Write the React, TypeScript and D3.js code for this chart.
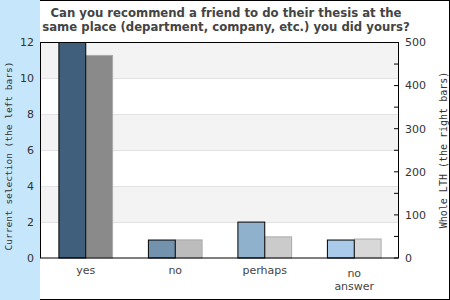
import React from "react";
import * as d3 from "d3";

const categories = ["yes", "no", "perhaps", "no answer"];
const currentSelection = [12, 1, 2, 1];
const wholeLTH = [470, 42, 49, 44];
const leftTicks = [0, 2, 4, 6, 8, 10, 12];
const rightTicks = [0, 100, 200, 300, 400, 500];
const rightMinorTicks = [50, 150, 250, 350, 450];
const leftColors = ["#3f5f7c", "#7292ae", "#8fb1cc", "#a9cbe9"];
const rightColors = ["#8a8a8a", "#bcbcbc", "#cbcbcb", "#d8d8d8"];
const titleLines = [
  "Can you recommend a friend to do their thesis at the",
  "same place (department, company, etc.) you did yours?",
];

export default function App() {
  const W = 450, H = 300;
  const x0 = 41, x1 = 399, yTop = 42.5, yBot = 258;
  const band = d3.scaleBand<string>().domain(categories).range([x0, x1]);
  const yL = d3.scaleLinear().domain([0, 12]).range([yBot, yTop]);
  const yR = d3.scaleLinear().domain([0, 500]).range([yBot, yTop]);
  const bw = band.bandwidth() * 0.3;
  const font = "DejaVu Sans, sans-serif";
  const mono = "DejaVu Sans Mono, monospace";
  const stripes = [[10, 12], [6, 8], [2, 4]];
  return (
    <svg width={W} height={H} style={{ display: "block", position: "absolute", left: 0, top: 0 }}>
      <rect x={0} y={0} width={W} height={H} fill="#fff" />
      <rect x={0.5} y={0.5} width={W - 1} height={H - 1} fill="none" stroke="#000" />
      <rect x={0} y={0} width={40} height={H} fill="#c6e6fb" />
      {stripes.map(([a, b], i) => (
        <rect key={i} x={x0} y={yL(b)} width={x1 - x0 - 1} height={yL(a) - yL(b)} fill="#f3f3f3" />
      ))}
      {leftTicks.slice(1, -1).map((t) => (
        <line key={t} x1={x0} x2={x1 - 1} y1={Math.round(yL(t)) + 0.5} y2={Math.round(yL(t)) + 0.5} stroke="#e2e2e2" />
      ))}
      {categories.map((c, i) => {
        const cx = band(c)! + band.bandwidth() / 2;
        return (
          <g key={c}>
            <rect x={cx} y={yR(wholeLTH[i])} width={bw} height={yBot - yR(wholeLTH[i])} fill={rightColors[i]} stroke="#aaaaaa" strokeWidth={1} />
            <rect x={cx - bw} y={yL(currentSelection[i])} width={bw} height={yBot - yL(currentSelection[i])} fill={leftColors[i]} stroke="#000" strokeWidth={1} />
          </g>
        );
      })}
      <rect x={40.5} y={yTop} width={x1 - 41} height={yBot - yTop} fill="none" stroke="#000" strokeWidth={1} />
      {[...rightTicks, ...rightMinorTicks].map((t) => (
        <line key={t} x1={x1 - 5} x2={x1 - 1} y1={yR(t)} y2={yR(t)} stroke="#000" />
      ))}
      {leftTicks.map((t) => (
        <text key={t} x={34} y={yL(t)} dy="0.35em" textAnchor="end" fontFamily={font} fontSize={11} fill="#333">{t}</text>
      ))}
      {rightTicks.map((t) => (
        <text key={t} x={405} y={yR(t)} dy="0.35em" textAnchor="start" fontFamily={font} fontSize={11} fill="#333">{t}</text>
      ))}
      {categories.map((c) => {
        const cx = band(c)! + band.bandwidth() / 2;
        const parts = c.split(" ");
        const y0 = parts.length > 1 ? 277 : 274;
        return (
          <text key={c} x={cx} y={y0} textAnchor="middle" fontFamily={font} fontSize={11} fill="#444">
            {parts.map((p, j) => (
              <tspan key={j} x={cx} y={y0 + j * 13}>{p}</tspan>
            ))}
          </text>
        );
      })}
      {titleLines.map((l, i) => (
        <text key={i} x={226} y={16.5 + i * 14} textAnchor="middle" fontFamily={font} fontWeight="bold" fontSize={11.7} fill="#444">{l}</text>
      ))}
      <text transform={`translate(12,156) rotate(-90)`} textAnchor="middle" fontFamily={mono} fontSize={9.5} fill="#333">Current selection (the left bars)</text>
      <text transform={`translate(447,150) rotate(-90)`} textAnchor="middle" fontFamily={mono} fontSize={10} fill="#333">Whole LTH (the right bars)</text>
    </svg>
  );
}
